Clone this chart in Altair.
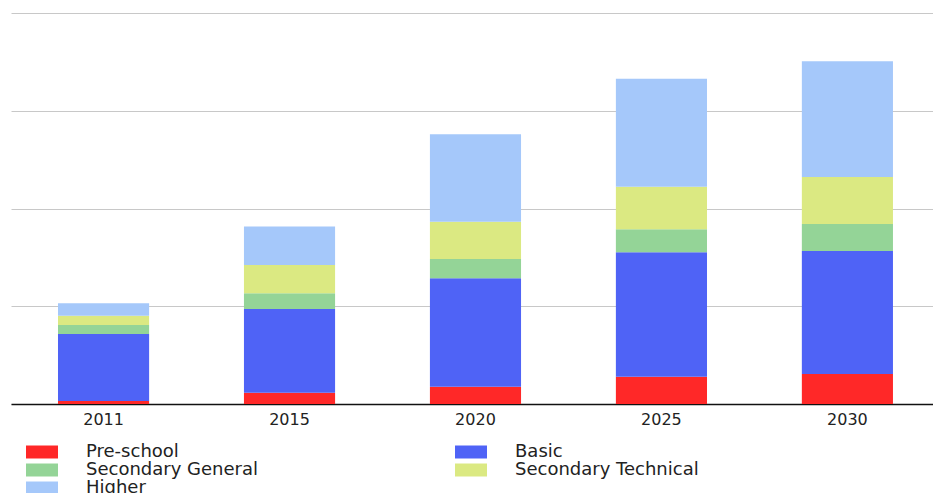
import altair as alt
import pandas as pd

# Enrolment by education level (stacked), one bar per year
years = ["2011", "2015", "2020", "2025", "2030"]
levels = ["\u00a0Pre-school", "Basic", "Secondary General", "Secondary Technical", "Higher"]
colors = ["#ff2828", "#4f63f6", "#94d497", "#dbe982", "#a5c8fa"]

pre_school = [0.31, 1.16, 1.77, 2.79, 3.07]
basic = [6.85, 8.56, 11.09, 12.73, 12.58]
secondary_general = [0.92, 1.61, 1.97, 2.35, 2.76]
secondary_technical = [0.95, 2.90, 3.82, 4.36, 4.81]
higher = [1.27, 3.92, 8.94, 11.05, 11.84]

series = [pre_school, basic, secondary_general, secondary_technical, higher]
rows = []
for i, (name, vals) in enumerate(zip(levels, series)):
    for y, v in zip(years, vals):
        rows.append({"year": y, "level": name, "value": v, "order": i})
df = pd.DataFrame(rows)

# wide flat legend swatch: 13 px tall, about 32 px wide at size 169
swatch = "M-2.46,-1H2.46V1H-2.46Z"

chart = (
    alt.Chart(df)
    .mark_bar()
    .encode(
        x=alt.X(
            "year:N",
            sort=years,
            title=None,
            scale=alt.Scale(paddingInner=0.51, paddingOuter=0.234, align=0.54),
            axis=alt.Axis(
                labelAngle=0,
                labelFont="DejaVu Sans",
                labelFontSize=16,
                labelColor="#222222",
                labelPadding=7,
                ticks=False,
                domainColor="#111111",
                domainWidth=1.5,
                grid=False,
            ),
        ),
        y=alt.Y(
            "value:Q",
            stack="zero",
            title=None,
            scale=alt.Scale(domain=[0, 40], nice=False),
            axis=alt.Axis(
                values=[0, 10, 20, 30, 40],
                labels=False,
                ticks=False,
                domain=False,
                grid=True,
                gridColor="#c8c8c8",
                gridWidth=1,
            ),
        ),
        color=alt.Color(
            "level:N",
            scale=alt.Scale(domain=levels, range=colors),
            legend=alt.Legend(
                title=None,
                orient="none",
                legendX=22,
                legendY=430,
                direction="horizontal",
                columns=2,
                symbolType=swatch,
                symbolSize=169,
                symbolStrokeWidth=0,
                symbolOpacity=1,
                labelFont="DejaVu Sans",
                labelFontSize=18,
                labelColor="#222222",
                labelOffset=35,
                labelLimit=500,
                rowPadding=-5,
                columnPadding=197,
            ),
        ),
        order=alt.Order("order:Q", sort="ascending"),
    )
    .properties(
        width=922,
        height=391,
        autosize=alt.AutoSizeParams(type="none"),
        padding={"left": 11, "top": 13, "right": 0, "bottom": 89},
    )
    .configure_view(stroke=None)
)

chart.save("out.html", embed_options={"renderer": "svg", "actions": False})
